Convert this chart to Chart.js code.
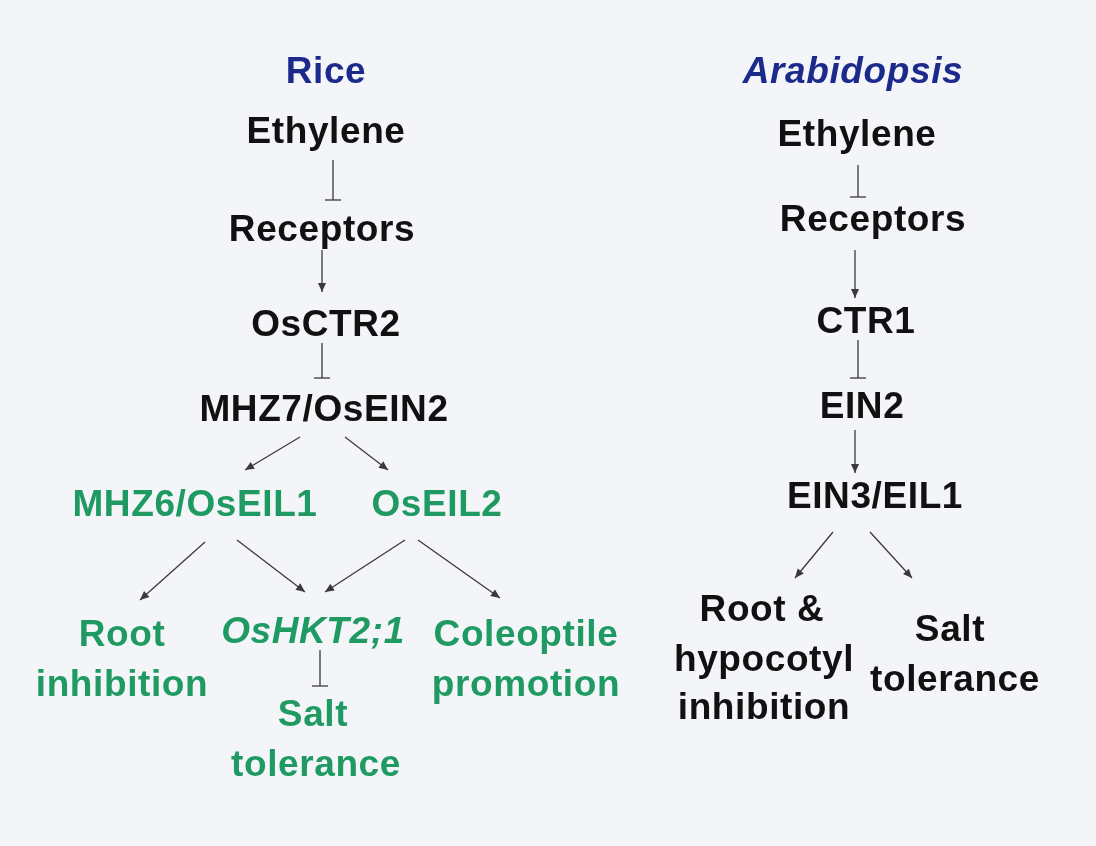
<!DOCTYPE html>
<html>
<head>
<meta charset="utf-8">
<script src="https://cdn.jsdelivr.net/npm/chart.js@4/dist/chart.umd.min.js"></script>
<style>
  html, body { margin: 0; padding: 0; background: #f3f5f9; }
  #wrap { width: 1096px; height: 846px; }
</style>
</head>
<body>
<div id="wrap"><canvas id="diagram"></canvas></div>
<script>
// Node labels and their places on the 1096 x 846 grid (y grows downward)
const nodeLabels = ['Rice', 'Ethylene', 'Receptors', 'OsCTR2', 'MHZ7/OsEIN2', 'MHZ6/OsEIL1', 'OsEIL2',
    'Root', 'inhibition', 'OsHKT2;1', 'Coleoptile', 'promotion', 'Salt', 'tolerance',
    'Arabidopsis', 'Ethylene', 'Receptors', 'CTR1', 'EIN2', 'EIN3/EIL1',
    'Root &', 'hypocotyl', 'inhibition', 'Salt', 'tolerance'];
const nodeX = [326, 326, 322, 326, 324, 195, 437, 122, 122, 313, 526, 526, 313, 316,
    853, 857, 873, 866, 862, 875, 762, 764, 764, 950, 955];
const nodeY = [70, 130, 228, 323, 408, 503, 503, 633, 683, 630, 633, 683, 713, 763,
    70, 133, 218, 320, 405, 495, 608, 658, 706, 628, 678];
// k = plain black, t = blue title, ti = blue italic title, g = green, gi = green italic
const nodeKind = ['t', 'k', 'k', 'k', 'k', 'g', 'g', 'g', 'g', 'gi', 'g', 'g', 'g', 'g',
    'ti', 'k', 'k', 'k', 'k', 'k', 'k', 'k', 'k', 'k', 'k'];

// Edges: from (x1,y1) to (x2,y2); type 'a' = arrow, 't' = inhibition bar
const edgeFrom = [[333, 160], [322, 250], [322, 343], [300, 437], [345, 437], [205, 542], [237, 540],
    [405, 540], [418, 540], [320, 650], [858, 165], [855, 250], [858, 340], [855, 430], [833, 532], [870, 532]];
const edgeTo = [[333, 200], [322, 292], [322, 378], [245, 470], [388, 470], [140, 600], [305, 592],
    [325, 592], [500, 598], [320, 686], [858, 197], [855, 298], [858, 378], [855, 473], [795, 578], [912, 578]];
const edgeType = ['t', 'a', 't', 'a', 'a', 'a', 'a', 'a', 'a', 't', 't', 'a', 't', 'a', 'a', 'a'];

const baseFont = '600 37px "Liberation Sans", Arial, sans-serif';
const italicFont = 'italic 600 37px "Liberation Sans", Arial, sans-serif';
const kindStyle = {
    k: { color: '#111111', font: baseFont },
    t: { color: '#1c2a8c', font: baseFont },
    ti: { color: '#1c2a8c', font: italicFont },
    g: { color: '#1e9a62', font: baseFont },
    gi: { color: '#1e9a62', font: italicFont }
};

const edgeDatasets = edgeFrom.map((p, i) => ({
    data: [{ x: p[0], y: p[1] }, { x: edgeTo[i][0], y: edgeTo[i][1] }],
    showLine: true,
    borderColor: '#3a3a3a',
    borderWidth: 1.3,
    pointRadius: 0,
    kind: edgeType[i]
}));

// Draws arrowheads, inhibition bars and node texts
const diagramPlugin = {
    id: 'diagram',
    afterDatasetsDraw(chart) {
        const ctx = chart.ctx;
        const xs = chart.scales.x, ys = chart.scales.y;
        ctx.save();
        chart.data.datasets.forEach(ds => {
            const a = ds.data[0], b = ds.data[1];
            const x1 = xs.getPixelForValue(a.x), y1 = ys.getPixelForValue(a.y);
            const x2 = xs.getPixelForValue(b.x), y2 = ys.getPixelForValue(b.y);
            const ang = Math.atan2(y2 - y1, x2 - x1);
            ctx.strokeStyle = '#3a3a3a';
            ctx.fillStyle = '#3a3a3a';
            ctx.lineWidth = 1.3;
            if (ds.kind === 'a') {
                const L = 9, W = 4;
                ctx.beginPath();
                ctx.moveTo(x2, y2);
                ctx.lineTo(x2 - L * Math.cos(ang) + W * Math.sin(ang), y2 - L * Math.sin(ang) - W * Math.cos(ang));
                ctx.lineTo(x2 - L * Math.cos(ang) - W * Math.sin(ang), y2 - L * Math.sin(ang) + W * Math.cos(ang));
                ctx.closePath();
                ctx.fill();
            } else {
                const h = 8;
                ctx.beginPath();
                ctx.moveTo(x2 - h * Math.sin(ang), y2 + h * Math.cos(ang));
                ctx.lineTo(x2 + h * Math.sin(ang), y2 - h * Math.cos(ang));
                ctx.stroke();
            }
        });
        ctx.textAlign = 'center';
        ctx.textBaseline = 'middle';
        if ('letterSpacing' in ctx) ctx.letterSpacing = '0.6px';
        nodeLabels.forEach((t, i) => {
            const st = kindStyle[nodeKind[i]];
            ctx.font = st.font;
            ctx.fillStyle = st.color;
            ctx.fillText(t, xs.getPixelForValue(nodeX[i]), ys.getPixelForValue(nodeY[i]) + 3);
        });
        ctx.restore();
    }
};

new Chart(document.getElementById('diagram'), {
    type: 'scatter',
    data: { datasets: edgeDatasets },
    options: {
        responsive: true,
        maintainAspectRatio: false,
        animation: false,
        layout: { padding: 0 },
        plugins: { legend: { display: false }, tooltip: { enabled: false } },
        scales: {
            x: { type: 'linear', min: 0, max: 1096, display: false },
            y: { type: 'linear', min: 0, max: 846, reverse: true, display: false }
        }
    },
    plugins: [diagramPlugin]
});
</script>
</body>
</html>
